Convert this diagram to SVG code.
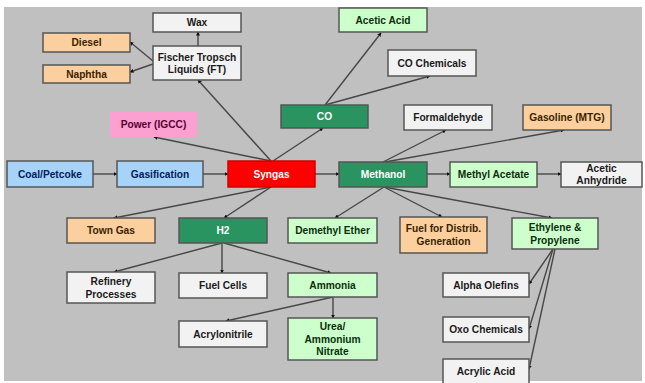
<svg xmlns="http://www.w3.org/2000/svg" width="645" height="383" viewBox="0 0 645 383">
<defs>
<marker id="ah" markerUnits="userSpaceOnUse" markerWidth="4" markerHeight="4" refX="3.5" refY="2" orient="auto">
<path d="M0,0 L4,2 L0,4 z" fill="#111"/>
</marker>
</defs>
<style>
text{font-family:"Liberation Sans",Arial,sans-serif;font-size:10.2px;font-weight:bold;text-anchor:middle;dominant-baseline:central}
rect.n{stroke:#555;stroke-width:1.5}
.blue rect{fill:#a6d3f7}.blue text{fill:#002060}
.org rect{fill:#fbd09e}.org text{fill:#3a1f00}
.dg rect{fill:#2a9461}.dg text{fill:#fff}
.lg rect{fill:#ccffcc}.lg text{fill:#0b2e0b}
.wh rect{fill:#f2f2f2}.wh text{fill:#1a1a1a}
.red rect{fill:#ff0000;stroke:#d00000}.red text{fill:#fff}
.pink rect{fill:#fca0d2;stroke:none}.pink text{fill:#5a0030}
#connectors line{stroke:#474747;stroke-width:1.4;fill:none;marker-end:url(#ah)}
</style>
<rect x="4" y="7" width="638" height="374" fill="#c0c0c0"/>
<g id="connectors">
<line x1="93" y1="174" x2="117" y2="174"/>
<line x1="203" y1="174" x2="228" y2="174"/>
<line x1="315" y1="174" x2="339" y2="174"/>
<line x1="427" y1="174" x2="450" y2="174"/>
<line x1="537" y1="174" x2="561" y2="174"/>
<line x1="271" y1="161" x2="198" y2="80"/>
<line x1="271" y1="161" x2="154" y2="137"/>
<line x1="273" y1="161" x2="323" y2="128"/>
<line x1="198" y1="46" x2="198" y2="32"/>
<line x1="153" y1="61" x2="130" y2="42"/>
<line x1="153" y1="64" x2="130" y2="72"/>
<line x1="325" y1="105" x2="381" y2="33"/>
<line x1="325" y1="105" x2="430" y2="76"/>
<line x1="383" y1="162" x2="446" y2="130"/>
<line x1="385" y1="162" x2="564" y2="130"/>
<line x1="271" y1="187" x2="114" y2="218"/>
<line x1="271" y1="187" x2="224" y2="218"/>
<line x1="384" y1="187" x2="335" y2="218"/>
<line x1="384" y1="187" x2="442" y2="217"/>
<line x1="384" y1="187" x2="552" y2="218"/>
<line x1="222" y1="243" x2="114" y2="272"/>
<line x1="222" y1="243" x2="222" y2="273"/>
<line x1="224" y1="243" x2="331" y2="273"/>
<line x1="333" y1="297" x2="226" y2="321"/>
<line x1="333" y1="297" x2="333" y2="318"/>
<line x1="553" y1="249" x2="529" y2="284"/>
<line x1="553" y1="249" x2="529" y2="329"/>
<line x1="555" y1="249" x2="529" y2="369"/>
</g>
<g id="wax" class="wh"><rect class="n" x="153" y="13" width="88" height="19"/><text x="197" y="22.5">Wax</text></g>
<g id="diesel" class="org"><rect class="n" x="43" y="33" width="87" height="19"/><text x="86.5" y="42.5">Diesel</text></g>
<g id="naphtha" class="org"><rect class="n" x="43" y="65" width="87" height="18"/><text x="86.5" y="74">Naphtha</text></g>
<g id="ft" class="wh"><rect class="n" x="153" y="46" width="88" height="34"/><text x="197" y="57">Fischer Tropsch</text><text x="197" y="69.5">Liquids (FT)</text></g>
<g id="power" class="pink"><rect class="n" x="110" y="112" width="87" height="25"/><text x="153.5" y="124.5">Power (IGCC)</text></g>
<g id="co" class="dg"><rect class="n" x="281" y="105" width="87" height="23"/><text x="324.5" y="116.5">CO</text></g>
<g id="acetic-acid" class="lg"><rect class="n" x="339" y="8" width="88" height="24"/><text x="383" y="20">Acetic Acid</text></g>
<g id="co-chemicals" class="wh"><rect class="n" x="388" y="50" width="88" height="26"/><text x="432" y="63">CO Chemicals</text></g>
<g id="formaldehyde" class="wh"><rect class="n" x="404" y="105" width="88" height="25"/><text x="448" y="117.5">Formaldehyde</text></g>
<g id="gasoline" class="org"><rect class="n" x="523" y="105" width="88" height="25"/><text x="567" y="117.5">Gasoline (MTG)</text></g>
<g id="coal" class="blue"><rect class="n" x="7" y="161" width="86" height="26"/><text x="50" y="174">Coal/Petcoke</text></g>
<g id="gasification" class="blue"><rect class="n" x="117" y="161" width="86" height="26"/><text x="160" y="174">Gasification</text></g>
<g id="syngas" class="red"><rect class="n" x="228" y="161" width="87" height="26"/><text x="271.5" y="174">Syngas</text></g>
<g id="methanol" class="dg"><rect class="n" x="339" y="162" width="88" height="25"/><text x="383" y="174.5">Methanol</text></g>
<g id="methyl-acetate" class="lg"><rect class="n" x="450" y="162" width="87" height="25"/><text x="493.5" y="174.5">Methyl Acetate</text></g>
<g id="acetic-anhydride" class="wh"><rect class="n" x="561" y="162" width="81" height="25"/><text x="601.5" y="168.5">Acetic</text><text x="601.5" y="180.5">Anhydride</text></g>
<g id="town-gas" class="org"><rect class="n" x="67" y="218" width="88" height="25"/><text x="111" y="230.5">Town Gas</text></g>
<g id="h2" class="dg"><rect class="n" x="179" y="218" width="88" height="25"/><text x="223" y="230.5">H2</text></g>
<g id="dme" class="lg"><rect class="n" x="288" y="218" width="89" height="25"/><text x="332.5" y="230.5">Demethyl Ether</text></g>
<g id="fuel-distrib" class="org"><rect class="n" x="400" y="217" width="87" height="36"/><text x="443.5" y="228.5">Fuel for Distrib.</text><text x="443.5" y="241.5">Generation</text></g>
<g id="ethylene" class="lg"><rect class="n" x="512" y="218" width="86" height="31"/><text x="555" y="227">Ethylene &amp;</text><text x="555" y="240">Propylene</text></g>
<g id="refinery" class="wh"><rect class="n" x="67" y="272" width="88" height="31"/><text x="111" y="281">Refinery</text><text x="111" y="294">Processes</text></g>
<g id="fuel-cells" class="wh"><rect class="n" x="179" y="273" width="88" height="25"/><text x="223" y="285.5">Fuel Cells</text></g>
<g id="ammonia" class="lg"><rect class="n" x="288" y="273" width="89" height="24"/><text x="332.5" y="285">Ammonia</text></g>
<g id="acrylonitrile" class="wh"><rect class="n" x="179" y="321" width="88" height="26"/><text x="223" y="334">Acrylonitrile</text></g>
<g id="urea" class="lg"><rect class="n" x="288" y="318" width="89" height="42"/><text x="332.5" y="326.5">Urea/</text><text x="332.5" y="339">Ammonium</text><text x="332.5" y="351.5">Nitrate</text></g>
<g id="alpha-olefins" class="wh"><rect class="n" x="443" y="273" width="86" height="24"/><text x="486" y="285">Alpha Olefins</text></g>
<g id="oxo" class="wh"><rect class="n" x="443" y="317" width="86" height="25"/><text x="486" y="329.5">Oxo Chemicals</text></g>
<g id="acrylic-acid" class="wh"><rect class="n" x="443" y="359" width="86" height="26"/><text x="486" y="371">Acrylic Acid</text></g>
</svg>
